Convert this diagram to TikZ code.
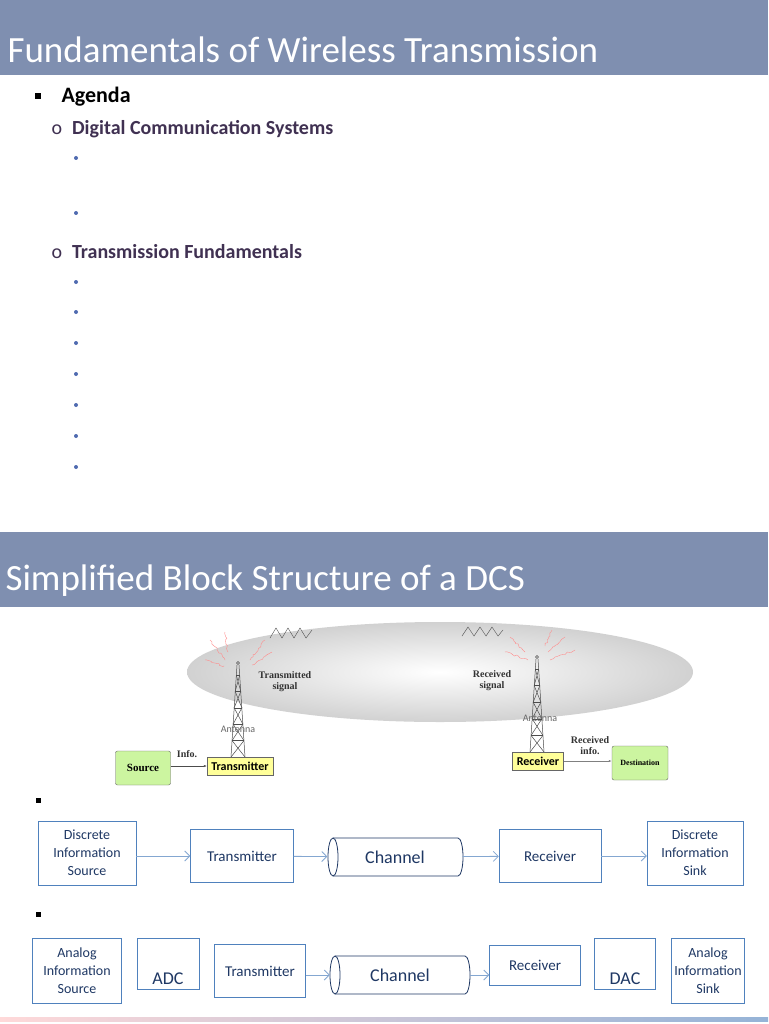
\documentclass[tikz,border=0pt]{standalone}
\usepackage{fontspec}
\setmainfont{Carlito}
\newfontfamily\serifb{Liberation Serif}
\usetikzlibrary{arrows.meta, decorations.pathmorphing}
\definecolor{barblue}{HTML}{7F8FB0}
\definecolor{agendap}{HTML}{403152}
\definecolor{dotblue}{HTML}{4F6BB0}
\definecolor{boxline}{HTML}{4F81BD}
\definecolor{navy}{HTML}{1F3864}
\definecolor{srcgreen}{HTML}{CCF5A0}
\definecolor{txyellow}{HTML}{FFFF99}
\tikzset{
  blk/.style={draw=boxline, fill=white, align=center, text=navy, font=\fontsize{15}{18}\selectfont, inner sep=2pt},
  chan/.style={draw=none, inner sep=0pt, text=navy, font=\fontsize{18}{21}\selectfont},
  conn/.style={draw=boxline!70, thick, -{Straight Barb[length=5pt]}},
  title/.style={anchor=west, text=white, font=\fontsize{37}{40}\selectfont},
  dot/.style={circle, fill=dotblue, inner sep=0pt, minimum size=4pt},
  oldbox/.style={draw=black!60, rounded corners=2pt, font=\serifb\bfseries\fontsize{11}{12}\selectfont},
  oldlbl/.style={font=\serifb\bfseries\fontsize{10}{11}\selectfont, align=center, text=black!80},
  tower/.style={draw=black!70, line width=0.5pt}
}
\begin{document}
\begin{tikzpicture}[x=1pt, y=-1pt]
\useasboundingbox (0,0) rectangle (768,1024);
\fill[white] (0,0) rectangle (768,1024);
% header bars
\fill[barblue] (0,0) rectangle (768,75);
\node[title] (t1) at (4,50) {Fundamentals of Wireless Transmission};
\fill[barblue] (0,532) rectangle (768,607);
\node[title] (t2) at (2,581) {Simplified Block Structure of a DCS};
% agenda
\node[fill=black, inner sep=0pt, minimum size=6pt] (b0) at (38,96) {};
\node[anchor=west, font=\bfseries\fontsize{22}{26}\selectfont] (ag) at (58,97) {Agenda};
\node[anchor=west, text=agendap, font=\fontsize{20}{24}\selectfont] (o1) at (48,129) {o\hspace{10pt}\textbf{Digital Communication Systems}};
\node[anchor=west, text=agendap, font=\fontsize{20}{24}\selectfont] (o2) at (48,252) {o\hspace{10pt}\textbf{Transmission Fundamentals}};
\foreach \yy [count=\i] in {158,213,282,312,343,374,405,436,467}
  \node[dot] (d\i) at (76,\yy) {};
% ellipse (sky)
\shade[inner color=white, outer color=black!18] (440,672) ellipse [x radius=253, y radius=50];
% zigzag waves
\draw[black!70] (270,638) -- (276,628) -- (282,638) -- (288,628) -- (294,638) -- (300,628) -- (306,638) -- (312,630);
\draw[black!70] (462,636) -- (468,627) -- (474,636) -- (480,627) -- (486,636) -- (492,627) -- (498,636) -- (503,630);
% red radiation squiggles
\foreach \a/\b in {{(225,660)}/{(210,640)}, {(228,652)}/{(225,632)}, {(250,660)}/{(265,640)}, {(252,665)}/{(272,652)}, {(224,666)}/{(205,660)},
                   {(525,652)}/{(510,637)}, {(528,660)}/{(505,652)}, {(548,652)}/{(565,637)}, {(550,660)}/{(575,650)}, {(545,646)}/{(552,630)}}
  \draw[red!45, decorate, decoration={random steps, segment length=2pt, amplitude=1pt}] \a -- \b;
% towers
\foreach \tx/\ttop/\tbot in {238/663/757, 537/657/752}{
  \draw[tower] (\tx,\ttop) circle[radius=1.5];
  \draw[tower] (\tx-1,\ttop+2) -- (\tx-7,\tbot) (\tx+1,\ttop+2) -- (\tx+7,\tbot);
  \foreach \k in {0,1,2,3,4}{
    \pgfmathsetmacro{\ya}{\ttop+12+\k*(\tbot-\ttop-12)/5}
    \pgfmathsetmacro{\yb}{\ttop+12+(\k+1)*(\tbot-\ttop-12)/5}
    \pgfmathsetmacro{\wa}{1+6*(\ya-\ttop)/(\tbot-\ttop)}
    \pgfmathsetmacro{\wb}{1+6*(\yb-\ttop)/(\tbot-\ttop)}
    \draw[tower] (\tx-\wa,\ya) -- (\tx+\wa,\ya);
    \draw[tower] (\tx-\wa,\ya) -- (\tx+\wb,\yb) (\tx+\wa,\ya) -- (\tx-\wb,\yb);
  }
}
\node[oldlbl] (ts) at (285,682) {Transmitted\\signal};
\node[oldlbl] (rs) at (492,681) {Received\\signal};
\node[font=\fontsize{10}{11}\selectfont, text=black!60] (an1) at (238,729) {Antenna};
\node[font=\fontsize{10}{11}\selectfont, text=black!60] (an2) at (540,718) {Antenna};
\node[oldbox, fill=srcgreen, minimum width=55pt, minimum height=34pt] (src) at (143,768) {Source};
\node[oldbox, fill=txyellow, rounded corners=0pt, minimum width=66pt, minimum height=18pt, font=\bfseries\fontsize{12}{13}\selectfont] (tx) at (240,766) {Transmitter};
\node[oldbox, fill=txyellow, rounded corners=0pt, minimum width=51pt, minimum height=18pt, font=\bfseries\fontsize{12}{13}\selectfont] (rx) at (538,761) {Receiver};
\node[oldbox, fill=srcgreen, minimum width=56pt, minimum height=34pt, font=\serifb\bfseries\fontsize{8}{9}\selectfont] (dst) at (640,763) {Destination};
\draw[black!70, -{Latex[length=3pt]}] (src.east |- tx) -- (tx);
\draw[black!50, thick, -{Latex[length=3pt]}] (rx) -- (rx -| dst.west);
\node[oldlbl] (inf) at (187,754) {Info.};
\node[oldlbl] (rinf) at (590,746) {Received\\info.};
% channel cylinders (drawn by hand)
\foreach \xa/\xb/\ya/\yb in {328/463/838/876, 330/470/956/994}{
  \pgfmathsetmacro{\ry}{(\yb-\ya)/2}
  \filldraw[navy, fill=white, thick] (\xa+5,\ya) -- (\xb-5,\ya) arc[x radius=5, y radius=\ry, start angle=-90, end angle=90] -- (\xa+5,\yb) arc[x radius=5, y radius=\ry, start angle=90, end angle=270] -- cycle;
  \draw[navy, thick] (\xa+5,\ya) arc[x radius=5, y radius=\ry, start angle=-90, end angle=90];
}
% block row 1
\node[fill=black, inner sep=0pt, minimum size=5pt] (b1) at (38,800) {};
\node[blk, font=\fontsize{14}{18}\selectfont, minimum width=98pt, minimum height=64pt] (ds) at (87,853) {Discrete\\Information\\Source};
\node[blk, minimum width=103pt, minimum height=53pt] (t1x) at (242,856) {Transmitter};
\node[chan, minimum width=135pt, minimum height=38pt] (c1) at (395,857) {Channel};
\node[blk, minimum width=102pt, minimum height=53pt] (r1x) at (550,856) {Receiver};
\node[blk, font=\fontsize{14}{18}\selectfont, minimum width=96pt, minimum height=64pt] (dk) at (695,853) {Discrete\\Information\\Sink};
\draw[conn] (ds.east |- t1x) -- (t1x);
\draw[conn] (t1x) -- (c1);
\draw[conn] (c1) -- (r1x);
\draw[conn] (r1x) -- (dk.west |- r1x);
% block row 2
\node[fill=black, inner sep=0pt, minimum size=5pt] (b2) at (38,914) {};
\node[blk, font=\fontsize{14}{18}\selectfont, minimum width=89pt, minimum height=65pt] (as) at (77,971) {Analog\\Information\\Source};
\node[blk, minimum width=62pt, minimum height=51pt, font=\fontsize{18}{21}\selectfont] (adc) at (168,964) {\strut\\[6pt]ADC};
\node[blk, minimum width=91pt, minimum height=53pt] (t2x) at (260,971) {Transmitter};
\node[chan, minimum width=140pt, minimum height=38pt] (c2) at (400,975) {Channel};
\node[blk, minimum width=91pt, minimum height=40pt] (r2x) at (535,965) {Receiver};
\node[blk, minimum width=61pt, minimum height=51pt, font=\fontsize{18}{21}\selectfont] (dac) at (625,964) {\strut\\[6pt]DAC};
\node[blk, font=\fontsize{14}{18}\selectfont, minimum width=73pt, minimum height=65pt] (ak) at (708,971) {Analog\\Information\\Sink};
\draw[conn] (t2x.east |- c2) -- (c2);
\draw[conn] (c2) -- (c2 -| r2x.west);
% bottom stripe
\shade[left color=pink!60, right color=boxline!60] (0,1017) rectangle (768,1021);
\end{tikzpicture}
\end{document}
